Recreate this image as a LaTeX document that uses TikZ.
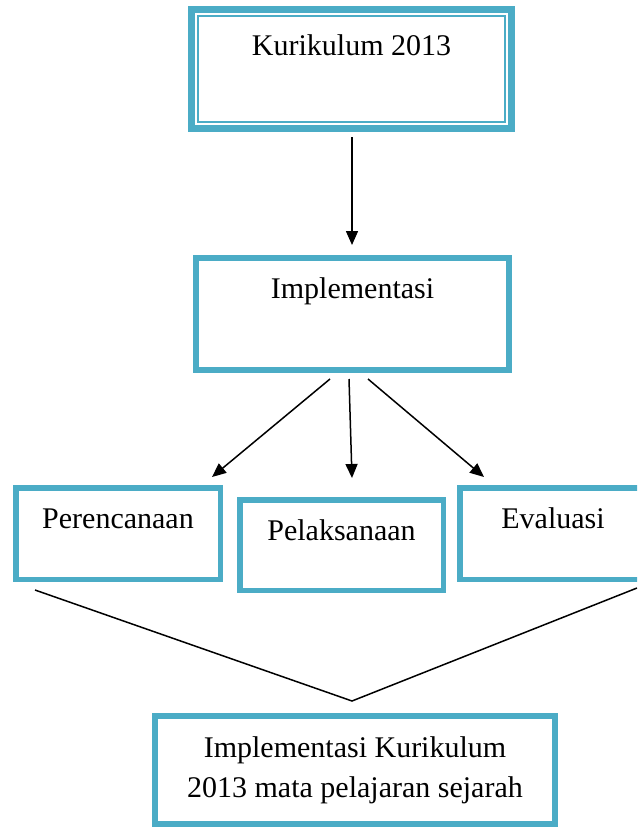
\documentclass[tikz,border=0pt]{standalone}
\usepackage{fontspec}
\setmainfont{Liberation Serif}
\usetikzlibrary{arrows.meta,calc}
\definecolor{boxblue}{HTML}{4BACC6}
\begin{document}
\begin{tikzpicture}[x=1pt,y=-1pt,
  box/.style={draw=boxblue, fill=white, rectangle, inner sep=0pt, font=\fontsize{30}{40}\selectfont},
  arr/.style={line width=1.5pt, -{Triangle[length=14pt,width=12pt]}},
  conn/.style={line width=1.5pt}]
\useasboundingbox (0,0) rectangle (637,827);
\clip (0,0) rectangle (637,827);
\fill[white] (0,0) rectangle (637,827);
% boxes
\node[box, line width=7pt, minimum width=320pt, minimum height=119pt, text height=21pt, text depth=49pt] (k) at (351.5,69) {Kurikulum 2013};
\draw[boxblue, line width=1.5pt] ($(k.north west)+(10,10)$) rectangle ($(k.south east)+(-10,-10)$);
\node[box, line width=6pt, minimum width=313pt, minimum height=112pt, text height=21pt, text depth=53pt] (impl) at (352.5,314) {Implementasi};
\node[box, line width=5.5pt, minimum width=204.5pt, minimum height=91.5pt, text height=21pt, text depth=32pt] (per) at (118,533.5) {Perencanaan};
\node[box, line width=5.5pt, minimum width=203.5pt, minimum height=90.5pt, text height=21pt, text depth=31pt] (pel) at (341.5,545) {Pelaksanaan};
\node[box, line width=5.5pt, minimum width=186.5pt, minimum height=91.5pt, text height=21pt, text depth=32pt] (eva) at (553,533.5) {Evaluasi};
\node[box, line width=6pt, minimum width=400pt, minimum height=108pt, align=center] (fin) at (355,770) {Implementasi Kurikulum\\2013 mata pelajaran sejarah};
% arrows
\draw[arr] ($(k.south)+(0.5,5)$) -- ($(impl.north)+(-0.5,-10)$);
\draw[arr] ($(impl.south)+(-22.5,6)$) -- ($(per.north)+(94,-8)$);
\draw[arr] ($(impl.south)+(-3.5,6)$) -- ($(pel.north)+(10.5,-19)$);
\draw[arr] ($(impl.south)+(15.5,6)$) -- ($(eva.north)+(-69,-8)$);
% converging lines
\coordinate (apex) at ($(fin.north)+(-3,-12)$);
\draw[conn] ($(per.south)+(-83,8)$) -- (apex) -- ($(eva.south)+(84,6)$);
\end{tikzpicture}
\end{document}
